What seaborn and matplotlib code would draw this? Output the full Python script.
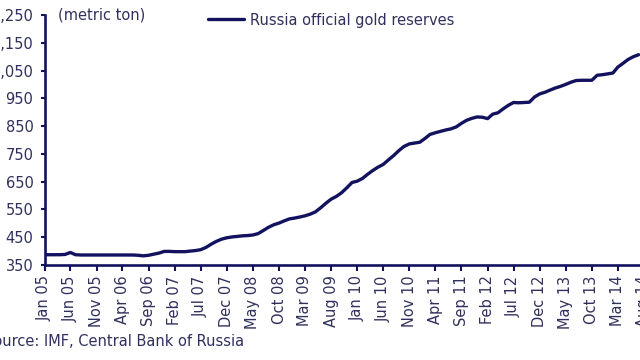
import matplotlib.pyplot as plt
import numpy as np
import pandas as pd
import seaborn as sns

# monthly reserves, Jan 2005 - Jul 2014 (tonnes)
y2005 = [387, 387, 387, 387, 388, 395, 387, 386, 386, 386, 386, 386]
y2006 = [386, 386, 386, 386, 386, 386, 385, 383, 385, 389, 393, 399]
y2007 = [399, 398, 398, 398, 400, 402, 405, 413, 425, 435, 443, 448]
y2008 = [451, 453, 455, 456, 458, 463, 474, 486, 495, 501, 509, 516]
y2009 = [519, 523, 527, 533, 541, 556, 572, 587, 597, 610, 628, 647]
y2010 = [652, 662, 676, 690, 702, 712, 728, 744, 762, 777, 786, 789]
y2011 = [792, 806, 820, 826, 831, 836, 840, 847, 860, 871, 878, 883]
y2012 = [882, 877, 893, 898, 912, 925, 935, 934, 935, 936, 955, 966]
y2013 = [972, 980, 987, 993, 1000, 1008, 1014, 1015, 1015, 1015, 1033, 1035]
y2014 = [1038, 1041, 1062, 1076, 1090, 1100, 1107]

reserves = y2005 + y2006 + y2007 + y2008 + y2009 + y2010 + y2011 + y2012 + y2013 + y2014
months = pd.date_range("2005-01-01", periods=len(reserves), freq="MS")
tick_dates = pd.date_range("2005-01-01", "2014-08-01", freq="5MS")
yticks = list(range(350, 1251, 100))

navy = "#12125e"
text_col = "#30305e"

sns.set_style("white")
plt.rcParams["font.family"] = ["DejaVu Sans"]

fig = plt.figure(figsize=(6.4, 3.6), dpi=100)
ax = fig.add_axes([44.5 / 640, 95 / 360, 599.4 / 640, 250 / 360])

df = pd.DataFrame({"month": months, "tonnes": reserves})
sns.lineplot(data=df, x="month", y="tonnes", ax=ax, color=navy, linewidth=2.4,
             label="Russia official gold reserves")

ax.set_xlim(pd.Timestamp("2005-01-01"), pd.Timestamp("2014-08-01"))
ax.set_ylim(350, 1250)
ax.set_xticks(tick_dates)
ax.set_xticklabels([d.strftime("%b %y") for d in tick_dates], rotation=90)
ax.set_yticks(yticks)
ax.set_yticklabels([f"{v:,}" for v in yticks])
ax.set_xlabel("")
ax.set_ylabel("")

for side in ["top", "right"]:
    ax.spines[side].set_visible(False)
for side in ["left", "bottom"]:
    ax.spines[side].set_color(navy)
    ax.spines[side].set_linewidth(1.9)

ax.tick_params(axis="y", length=3, width=1.5, color=navy, pad=5,
               labelsize=10.5, labelcolor=text_col, left=True)
ax.tick_params(axis="x", length=4, width=1.5, color=navy, pad=3.5,
               labelsize=10.5, labelcolor=text_col, bottom=True)

leg = ax.legend(loc="center left", bbox_to_anchor=(208 / 640, 1 - 20 / 360),
                bbox_transform=fig.transFigure, frameon=False, fontsize=10.5,
                borderpad=0, borderaxespad=0, handlelength=2.5, handletextpad=0.35)
for t in leg.get_texts():
    t.set_color(text_col)

fig.text(58 / 640, 1 - 15.5 / 360, "(metric ton)", fontsize=10.5, color=text_col, va="center")
fig.text(-16 / 640, 1 - 342 / 360, "Source: IMF, Central Bank of Russia",
         fontsize=10.5, color=text_col, va="center")

fig.savefig("out.png", dpi=100)
